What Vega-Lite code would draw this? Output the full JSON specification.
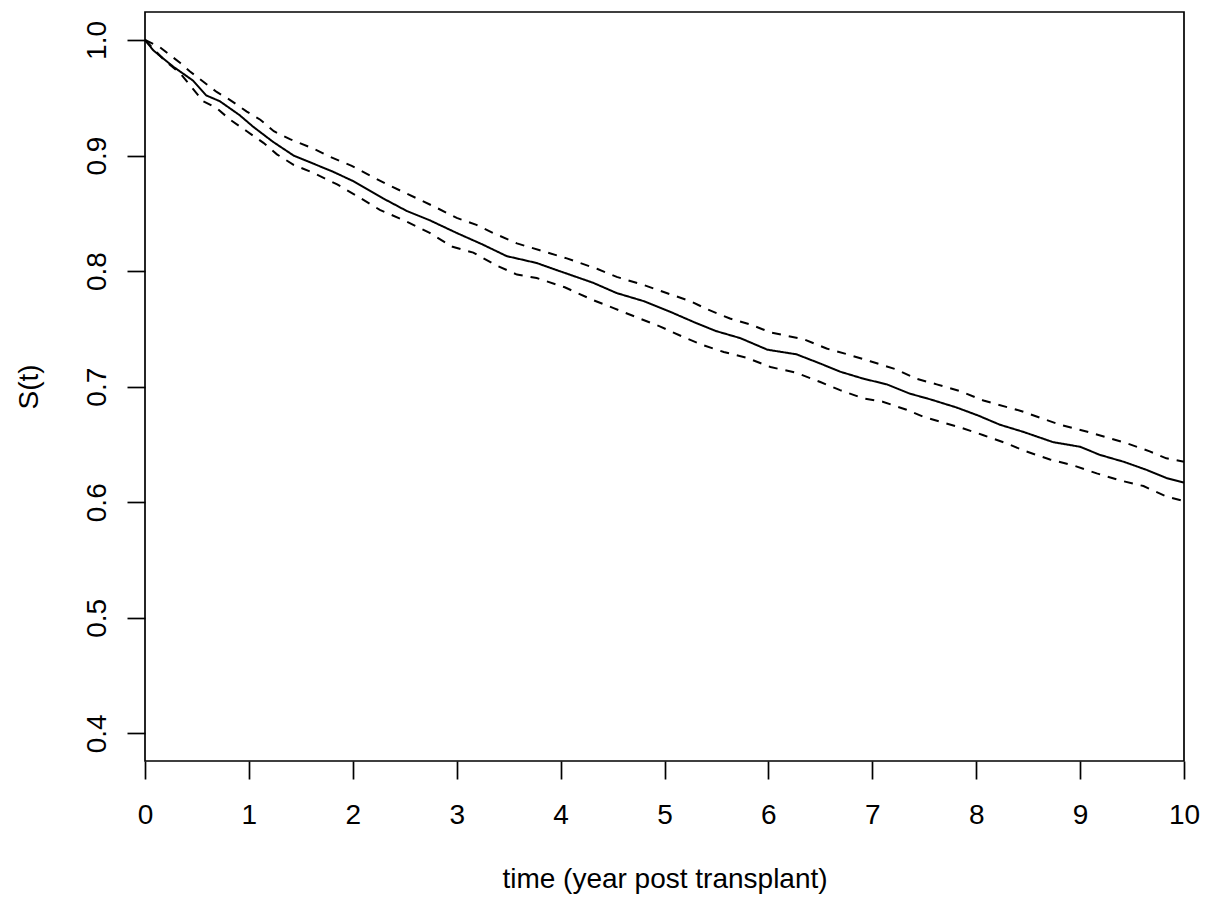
{
  "$schema": "https://vega.github.io/schema/vega-lite/v6.json",
  "width": 1039,
  "height": 749,
  "autosize": {"type": "none"},
  "padding": {"left": 145, "top": 12, "right": 23, "bottom": 139},
  "background": "white",
  "config": {
    "view": {"stroke": "black", "strokeWidth": 1.7},
    "font": "Liberation Sans"
  },
  "data": {
    "values": [
      {"t": 0, "s": 1.0, "series": "est"},
      {"t": 0.08, "s": 0.991, "series": "est"},
      {"t": 0.27, "s": 0.977, "series": "est"},
      {"t": 0.46, "s": 0.965, "series": "est"},
      {"t": 0.59, "s": 0.952, "series": "est"},
      {"t": 0.72, "s": 0.947, "series": "est"},
      {"t": 0.91, "s": 0.935, "series": "est"},
      {"t": 1.04, "s": 0.925, "series": "est"},
      {"t": 1.23, "s": 0.912, "series": "est"},
      {"t": 1.43, "s": 0.900, "series": "est"},
      {"t": 1.62, "s": 0.893, "series": "est"},
      {"t": 1.81, "s": 0.886, "series": "est"},
      {"t": 2.0, "s": 0.878, "series": "est"},
      {"t": 2.29, "s": 0.863, "series": "est"},
      {"t": 2.52, "s": 0.852, "series": "est"},
      {"t": 2.74, "s": 0.844, "series": "est"},
      {"t": 3.0, "s": 0.833, "series": "est"},
      {"t": 3.25, "s": 0.823, "series": "est"},
      {"t": 3.48, "s": 0.813, "series": "est"},
      {"t": 3.77, "s": 0.807, "series": "est"},
      {"t": 3.99, "s": 0.800, "series": "est"},
      {"t": 4.31, "s": 0.790, "series": "est"},
      {"t": 4.54, "s": 0.781, "series": "est"},
      {"t": 4.80, "s": 0.774, "series": "est"},
      {"t": 5.05, "s": 0.765, "series": "est"},
      {"t": 5.28, "s": 0.756, "series": "est"},
      {"t": 5.50, "s": 0.748, "series": "est"},
      {"t": 5.73, "s": 0.742, "series": "est"},
      {"t": 5.99, "s": 0.732, "series": "est"},
      {"t": 6.27, "s": 0.728, "series": "est"},
      {"t": 6.50, "s": 0.720, "series": "est"},
      {"t": 6.69, "s": 0.713, "series": "est"},
      {"t": 6.91, "s": 0.707, "series": "est"},
      {"t": 7.14, "s": 0.702, "series": "est"},
      {"t": 7.36, "s": 0.694, "series": "est"},
      {"t": 7.56, "s": 0.689, "series": "est"},
      {"t": 7.81, "s": 0.682, "series": "est"},
      {"t": 8.02, "s": 0.675, "series": "est"},
      {"t": 8.23, "s": 0.667, "series": "est"},
      {"t": 8.45, "s": 0.661, "series": "est"},
      {"t": 8.74, "s": 0.652, "series": "est"},
      {"t": 9.0, "s": 0.648, "series": "est"},
      {"t": 9.19, "s": 0.641, "series": "est"},
      {"t": 9.42, "s": 0.635, "series": "est"},
      {"t": 9.64, "s": 0.628, "series": "est"},
      {"t": 9.83, "s": 0.621, "series": "est"},
      {"t": 10.0, "s": 0.617, "series": "est"},

      {"t": 0, "s": 1.0, "series": "upper"},
      {"t": 0.14, "s": 0.994, "series": "upper"},
      {"t": 0.34, "s": 0.980, "series": "upper"},
      {"t": 0.43, "s": 0.973, "series": "upper"},
      {"t": 0.69, "s": 0.955, "series": "upper"},
      {"t": 0.82, "s": 0.948, "series": "upper"},
      {"t": 0.98, "s": 0.938, "series": "upper"},
      {"t": 1.11, "s": 0.931, "series": "upper"},
      {"t": 1.24, "s": 0.921, "series": "upper"},
      {"t": 1.40, "s": 0.914, "series": "upper"},
      {"t": 1.62, "s": 0.906, "series": "upper"},
      {"t": 1.78, "s": 0.899, "series": "upper"},
      {"t": 1.99, "s": 0.891, "series": "upper"},
      {"t": 2.33, "s": 0.875, "series": "upper"},
      {"t": 2.52, "s": 0.867, "series": "upper"},
      {"t": 2.78, "s": 0.856, "series": "upper"},
      {"t": 3.0, "s": 0.846, "series": "upper"},
      {"t": 3.19, "s": 0.840, "series": "upper"},
      {"t": 3.35, "s": 0.833, "series": "upper"},
      {"t": 3.58, "s": 0.824, "series": "upper"},
      {"t": 3.80, "s": 0.818, "series": "upper"},
      {"t": 4.06, "s": 0.811, "series": "upper"},
      {"t": 4.35, "s": 0.802, "series": "upper"},
      {"t": 4.54, "s": 0.795, "series": "upper"},
      {"t": 4.80, "s": 0.788, "series": "upper"},
      {"t": 5.02, "s": 0.781, "series": "upper"},
      {"t": 5.25, "s": 0.774, "series": "upper"},
      {"t": 5.41, "s": 0.767, "series": "upper"},
      {"t": 5.63, "s": 0.759, "series": "upper"},
      {"t": 5.82, "s": 0.754, "series": "upper"},
      {"t": 6.02, "s": 0.747, "series": "upper"},
      {"t": 6.34, "s": 0.741, "series": "upper"},
      {"t": 6.56, "s": 0.733, "series": "upper"},
      {"t": 6.76, "s": 0.728, "series": "upper"},
      {"t": 6.98, "s": 0.722, "series": "upper"},
      {"t": 7.23, "s": 0.715, "series": "upper"},
      {"t": 7.42, "s": 0.707, "series": "upper"},
      {"t": 7.62, "s": 0.702, "series": "upper"},
      {"t": 7.85, "s": 0.696, "series": "upper"},
      {"t": 8.07, "s": 0.688, "series": "upper"},
      {"t": 8.43, "s": 0.679, "series": "upper"},
      {"t": 8.62, "s": 0.673, "series": "upper"},
      {"t": 8.81, "s": 0.667, "series": "upper"},
      {"t": 9.07, "s": 0.661, "series": "upper"},
      {"t": 9.26, "s": 0.656, "series": "upper"},
      {"t": 9.45, "s": 0.651, "series": "upper"},
      {"t": 9.67, "s": 0.644, "series": "upper"},
      {"t": 9.83, "s": 0.638, "series": "upper"},
      {"t": 10.0, "s": 0.635, "series": "upper"},

      {"t": 0, "s": 1.0, "series": "lower"},
      {"t": 0.18, "s": 0.983, "series": "lower"},
      {"t": 0.34, "s": 0.971, "series": "lower"},
      {"t": 0.56, "s": 0.947, "series": "lower"},
      {"t": 0.69, "s": 0.941, "series": "lower"},
      {"t": 0.82, "s": 0.931, "series": "lower"},
      {"t": 0.98, "s": 0.921, "series": "lower"},
      {"t": 1.14, "s": 0.911, "series": "lower"},
      {"t": 1.27, "s": 0.901, "series": "lower"},
      {"t": 1.43, "s": 0.892, "series": "lower"},
      {"t": 1.62, "s": 0.885, "series": "lower"},
      {"t": 1.85, "s": 0.875, "series": "lower"},
      {"t": 2.04, "s": 0.865, "series": "lower"},
      {"t": 2.26, "s": 0.853, "series": "lower"},
      {"t": 2.49, "s": 0.844, "series": "lower"},
      {"t": 2.74, "s": 0.833, "series": "lower"},
      {"t": 2.96, "s": 0.821, "series": "lower"},
      {"t": 3.16, "s": 0.816, "series": "lower"},
      {"t": 3.38, "s": 0.805, "series": "lower"},
      {"t": 3.58, "s": 0.797, "series": "lower"},
      {"t": 3.77, "s": 0.794, "series": "lower"},
      {"t": 4.04, "s": 0.786, "series": "lower"},
      {"t": 4.31, "s": 0.775, "series": "lower"},
      {"t": 4.51, "s": 0.768, "series": "lower"},
      {"t": 4.76, "s": 0.759, "series": "lower"},
      {"t": 4.96, "s": 0.752, "series": "lower"},
      {"t": 5.18, "s": 0.743, "series": "lower"},
      {"t": 5.37, "s": 0.736, "series": "lower"},
      {"t": 5.57, "s": 0.730, "series": "lower"},
      {"t": 5.79, "s": 0.725, "series": "lower"},
      {"t": 6.02, "s": 0.717, "series": "lower"},
      {"t": 6.27, "s": 0.712, "series": "lower"},
      {"t": 6.50, "s": 0.704, "series": "lower"},
      {"t": 6.69, "s": 0.697, "series": "lower"},
      {"t": 6.91, "s": 0.690, "series": "lower"},
      {"t": 7.10, "s": 0.687, "series": "lower"},
      {"t": 7.33, "s": 0.680, "series": "lower"},
      {"t": 7.49, "s": 0.674, "series": "lower"},
      {"t": 7.68, "s": 0.669, "series": "lower"},
      {"t": 7.87, "s": 0.664, "series": "lower"},
      {"t": 8.07, "s": 0.658, "series": "lower"},
      {"t": 8.29, "s": 0.651, "series": "lower"},
      {"t": 8.48, "s": 0.644, "series": "lower"},
      {"t": 8.71, "s": 0.637, "series": "lower"},
      {"t": 8.93, "s": 0.632, "series": "lower"},
      {"t": 9.16, "s": 0.625, "series": "lower"},
      {"t": 9.38, "s": 0.619, "series": "lower"},
      {"t": 9.61, "s": 0.614, "series": "lower"},
      {"t": 9.83, "s": 0.605, "series": "lower"},
      {"t": 10.0, "s": 0.601, "series": "lower"}
    ]
  },
  "mark": {"type": "line", "color": "black", "strokeWidth": 2, "interpolate": "linear"},
  "encoding": {
    "x": {
      "field": "t",
      "type": "quantitative",
      "scale": {"domain": [0, 10], "nice": false, "zero": false},
      "axis": {
        "values": [0, 1, 2, 3, 4, 5, 6, 7, 8, 9, 10],
        "format": "d",
        "grid": false,
        "domain": false,
        "ticks": true,
        "tickSize": 18,
        "tickWidth": 1.7,
        "tickColor": "black",
        "labelFontSize": 28,
        "labelColor": "black",
        "labelFont": "Liberation Sans",
        "labelBaseline": "alphabetic",
        "labelPadding": 44,
        "labelFlush": false,
        "labelOverlap": false,
        "title": "time (year post transplant)",
        "titleFont": "Liberation Sans",
        "titleFontSize": 28,
        "titleFontWeight": "normal",
        "titleColor": "black",
        "titleBaseline": "alphabetic",
        "titleY": 126,
        "titleX": 519.5,
        "titleAnchor": "middle",
        "titleAlign": "center"
      }
    },
    "y": {
      "field": "s",
      "type": "quantitative",
      "scale": {"domain": [0.3761, 1.0242], "nice": false, "zero": false},
      "axis": {
        "values": [0.4, 0.5, 0.6, 0.7, 0.8, 0.9, 1.0],
        "format": ".1f",
        "grid": false,
        "domain": false,
        "ticks": true,
        "tickSize": 18,
        "tickWidth": 1.7,
        "tickColor": "black",
        "labelFontSize": 28,
        "labelColor": "black",
        "labelFont": "Liberation Sans",
        "labelAngle": -90,
        "labelAlign": "center",
        "labelBaseline": "alphabetic",
        "labelPadding": 22,
        "labelFlush": false,
        "labelOverlap": false,
        "title": "S(t)",
        "titleFont": "Liberation Sans",
        "titleFontSize": 28,
        "titleFontWeight": "normal",
        "titleColor": "black",
        "titleAngle": -90,
        "titleBaseline": "alphabetic",
        "titleAlign": "center",
        "titleX": -108,
        "titleY": 374.5
      }
    },
    "strokeDash": {
      "field": "series",
      "type": "nominal",
      "scale": {"domain": ["est", "upper", "lower"], "range": [[1, 0], [9, 8], [9, 8]]},
      "legend": null
    },
    "detail": {"field": "series", "type": "nominal"}
  }
}
